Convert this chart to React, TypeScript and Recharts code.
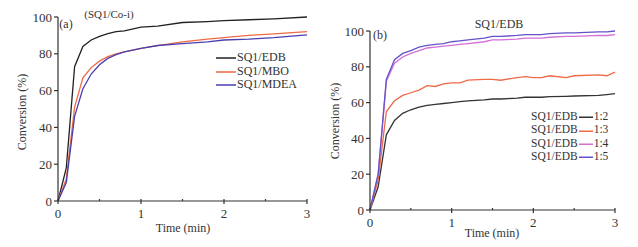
import { LineChart, Line, XAxis, YAxis } from 'recharts';

const FONT = '"Liberation Serif", "Times New Roman", serif';

// (a) SQ1/Co-i
const timesA = [0, 0.1, 0.2, 0.3, 0.4, 0.5, 0.6, 0.7, 0.8, 1.0, 1.2, 1.5, 1.8, 2.0, 2.3, 2.6, 3.0];
const edb = [0, 18, 73, 84, 87.5, 89.5, 91, 92, 92.5, 94.5, 95, 97, 97.5, 98, 98.5, 99, 100];
const mbo = [0, 12, 51, 67, 72.5, 76, 78.5, 80, 81, 83, 84.5, 86.5, 88, 88.8, 90, 90.8, 92];
const mdea = [0, 10, 46, 61, 69, 74, 77.5, 79.5, 81, 83, 84.5, 85.5, 86.5, 87.5, 88, 88.8, 90.3];

// (b) SQ1/EDB ratios
const timesB = [0, 0.1, 0.2, 0.3, 0.4, 0.5, 0.6, 0.7, 0.8, 0.9, 1.0, 1.1, 1.2, 1.4, 1.5, 1.6, 1.8, 1.9, 2.0, 2.1, 2.2, 2.4, 2.5, 2.8, 2.9, 3.0];
const r12 = [0, 13, 42, 50, 54, 56, 57.5, 58.5, 59, 59.5, 60, 60.5, 61, 61.5, 62, 62, 62.5, 63, 63, 63, 63.3, 63.5, 63.7, 64, 64.5, 65];
const r13 = [0, 17, 55, 61, 64, 65.5, 67, 69.5, 69, 70.5, 71, 71, 72.5, 73, 73, 72.5, 74, 74.5, 74, 74, 75, 74, 75, 75.5, 75, 77];
const r14 = [0, 20, 72, 82, 85.5, 87.5, 89, 90.5, 91, 91.5, 92, 92.5, 93, 94, 95, 95, 95.5, 96, 96, 96, 96.5, 97, 97, 97.5, 97.5, 98];
const r15 = [0, 20, 73, 84, 87.5, 89, 91, 92, 92.5, 93, 94, 94.5, 95, 96, 97, 97, 97.5, 98, 98, 98, 98.5, 99, 99, 99.5, 99.5, 100];

const xTicks = [0, 0.5, 1, 1.5, 2, 2.5, 3];
const yTicks = [0, 10, 20, 30, 40, 50, 60, 70, 80, 90, 100];

const dataA = timesA.map((t, i) => ({ t, edb: edb[i], mbo: mbo[i], mdea: mdea[i] }));
const dataB = timesB.map((t, i) => ({ t, r12: r12[i], r13: r13[i], r14: r14[i], r15: r15[i] }));

const seriesA = [
  { key: 'edb', name: 'SQ1/EDB', color: '#222222' },
  { key: 'mbo', name: 'SQ1/MBO', color: '#ee6a45' },
  { key: 'mdea', name: 'SQ1/MDEA', color: '#4a3fb0' },
];
const seriesB = [
  { key: 'r12', name: '1:2', color: '#333333' },
  { key: 'r13', name: '1:3', color: '#ee6a45' },
  { key: 'r14', name: '1:4', color: '#d46fd6' },
  { key: 'r15', name: '1:5', color: '#6552c8' },
];

const AXIS = '#333';

const XTick = (props: any) => {
  const { x, y, payload } = props;
  const major = Number.isInteger(payload.value);
  return (
    <g>
      <line x1={x} x2={x} y1={y - 2} y2={y + (major ? 3 : 0)} stroke={AXIS} strokeWidth={1.2} />
      {major && (
        <text x={x} y={y + 17} textAnchor="middle" fontSize={13} fontFamily={FONT} fill="#333">
          {payload.value}
        </text>
      )}
    </g>
  );
};

const YTick = (props: any) => {
  const { x, y, payload } = props;
  const major = payload.value % 20 === 0;
  return (
    <g>
      <line x1={x} x2={x - (major ? 4 : 2)} y1={y} y2={y} stroke={AXIS} strokeWidth={1.2} />
      {major && (
        <text x={x - 6} y={y + 4.5} textAnchor="end" fontSize={13} fontFamily={FONT} fill="#333">
          {payload.value}
        </text>
      )}
    </g>
  );
};

const Label = ({ x, y, children, rotate, size = 12 }: any) => (
  <div
    style={{
      position: 'absolute',
      left: x,
      top: y,
      transform: `translate(-50%, -50%)${rotate ? ' rotate(-90deg)' : ''}`,
      fontFamily: FONT,
      fontSize: size,
      color: '#333',
      whiteSpace: 'nowrap',
      lineHeight: 1,
    }}
  >
    {children}
  </div>
);

const Seg = ({ color, w }: { color: string; w: number }) => (
  <svg width={w} height={6} style={{ verticalAlign: 'middle', margin: '0 1px' }}>
    <line x1={0} x2={w} y1={3} y2={3} stroke={color} strokeWidth={1.5} />
  </svg>
);

export default function App() {
  return (
    <div style={{ position: 'absolute', left: 0, top: 0, width: 638, height: 247, background: '#fff', overflow: 'hidden' }}>
      <div style={{ position: 'absolute', left: 0, top: 0 }}>
        <LineChart width={320} height={247} data={dataA} margin={{ top: 17, right: 13, left: 0, bottom: 0 }}>
          <XAxis
            dataKey="t"
            type="number"
            domain={[0, 3]}
            ticks={xTicks}
            height={46}
            tickSize={0}
            tickMargin={0}
            tickLine={false}
            tick={<XTick />}
            stroke={AXIS}
            strokeWidth={1.2}
          />
          <YAxis
            type="number"
            domain={[0, 100]}
            ticks={yTicks}
            width={58}
            tickSize={0}
            tickMargin={0}
            tickLine={false}
            tick={<YTick />}
            stroke={AXIS}
            strokeWidth={1.2}
          />
          {seriesA.map((s) => (
            <Line key={s.key} type="linear" dataKey={s.key} name={s.name} stroke={s.color} strokeWidth={1.3} dot={false} isAnimationActive={false} />
          ))}
        </LineChart>
      </div>
      <div style={{ position: 'absolute', left: 318, top: 0 }}>
        <LineChart width={320} height={247} data={dataB} margin={{ top: 31, right: 23, left: 0, bottom: 0 }}>
          <XAxis
            dataKey="t"
            type="number"
            domain={[0, 3]}
            ticks={xTicks}
            height={37}
            tickSize={0}
            tickMargin={0}
            tickLine={false}
            tick={<XTick />}
            stroke={AXIS}
            strokeWidth={1.2}
          />
          <YAxis
            type="number"
            domain={[0, 100]}
            ticks={yTicks}
            width={52}
            tickSize={0}
            tickMargin={0}
            tickLine={false}
            tick={<YTick />}
            stroke={AXIS}
            strokeWidth={1.2}
          />
          {seriesB.map((s) => (
            <Line key={s.key} type="linear" dataKey={s.key} name={s.name} stroke={s.color} strokeWidth={1.3} dot={false} isAnimationActive={false} />
          ))}
        </LineChart>
      </div>

      <Label x={22} y={112} rotate>Conversion (%)</Label>
      <Label x={183} y={228}>Time (min)</Label>
      <Label x={109} y={14} size={11}>(SQ1/Co-i)</Label>
      <Label x={66} y={24}>(a)</Label>

      <Label x={335} y={121} rotate>Conversion (%)</Label>
      <Label x={492} y={233}>Time (min)</Label>
      <Label x={499} y={24}>SQ1/EDB</Label>
      <Label x={380} y={35}>(b)</Label>

      {seriesA.map((s, i) => (
        <div
          key={s.key}
          style={{ position: 'absolute', left: 215, top: 57 + i * 13.5, transform: 'translateY(-50%)', fontFamily: FONT, fontSize: 12, color: '#333', lineHeight: 1, whiteSpace: 'nowrap' }}
        >
          <Seg color={s.color} w={20} />
          {s.name}
        </div>
      ))}

      {seriesB.map((s, i) => (
        <div
          key={s.key}
          style={{ position: 'absolute', left: 531, top: 117 + i * 13.3, transform: 'translateY(-50%)', fontFamily: FONT, fontSize: 11.5, color: '#333', lineHeight: 1, whiteSpace: 'nowrap' }}
        >
          SQ1/EDB
          <Seg color={s.color} w={14} />
          {s.name}
        </div>
      ))}
    </div>
  );
}
